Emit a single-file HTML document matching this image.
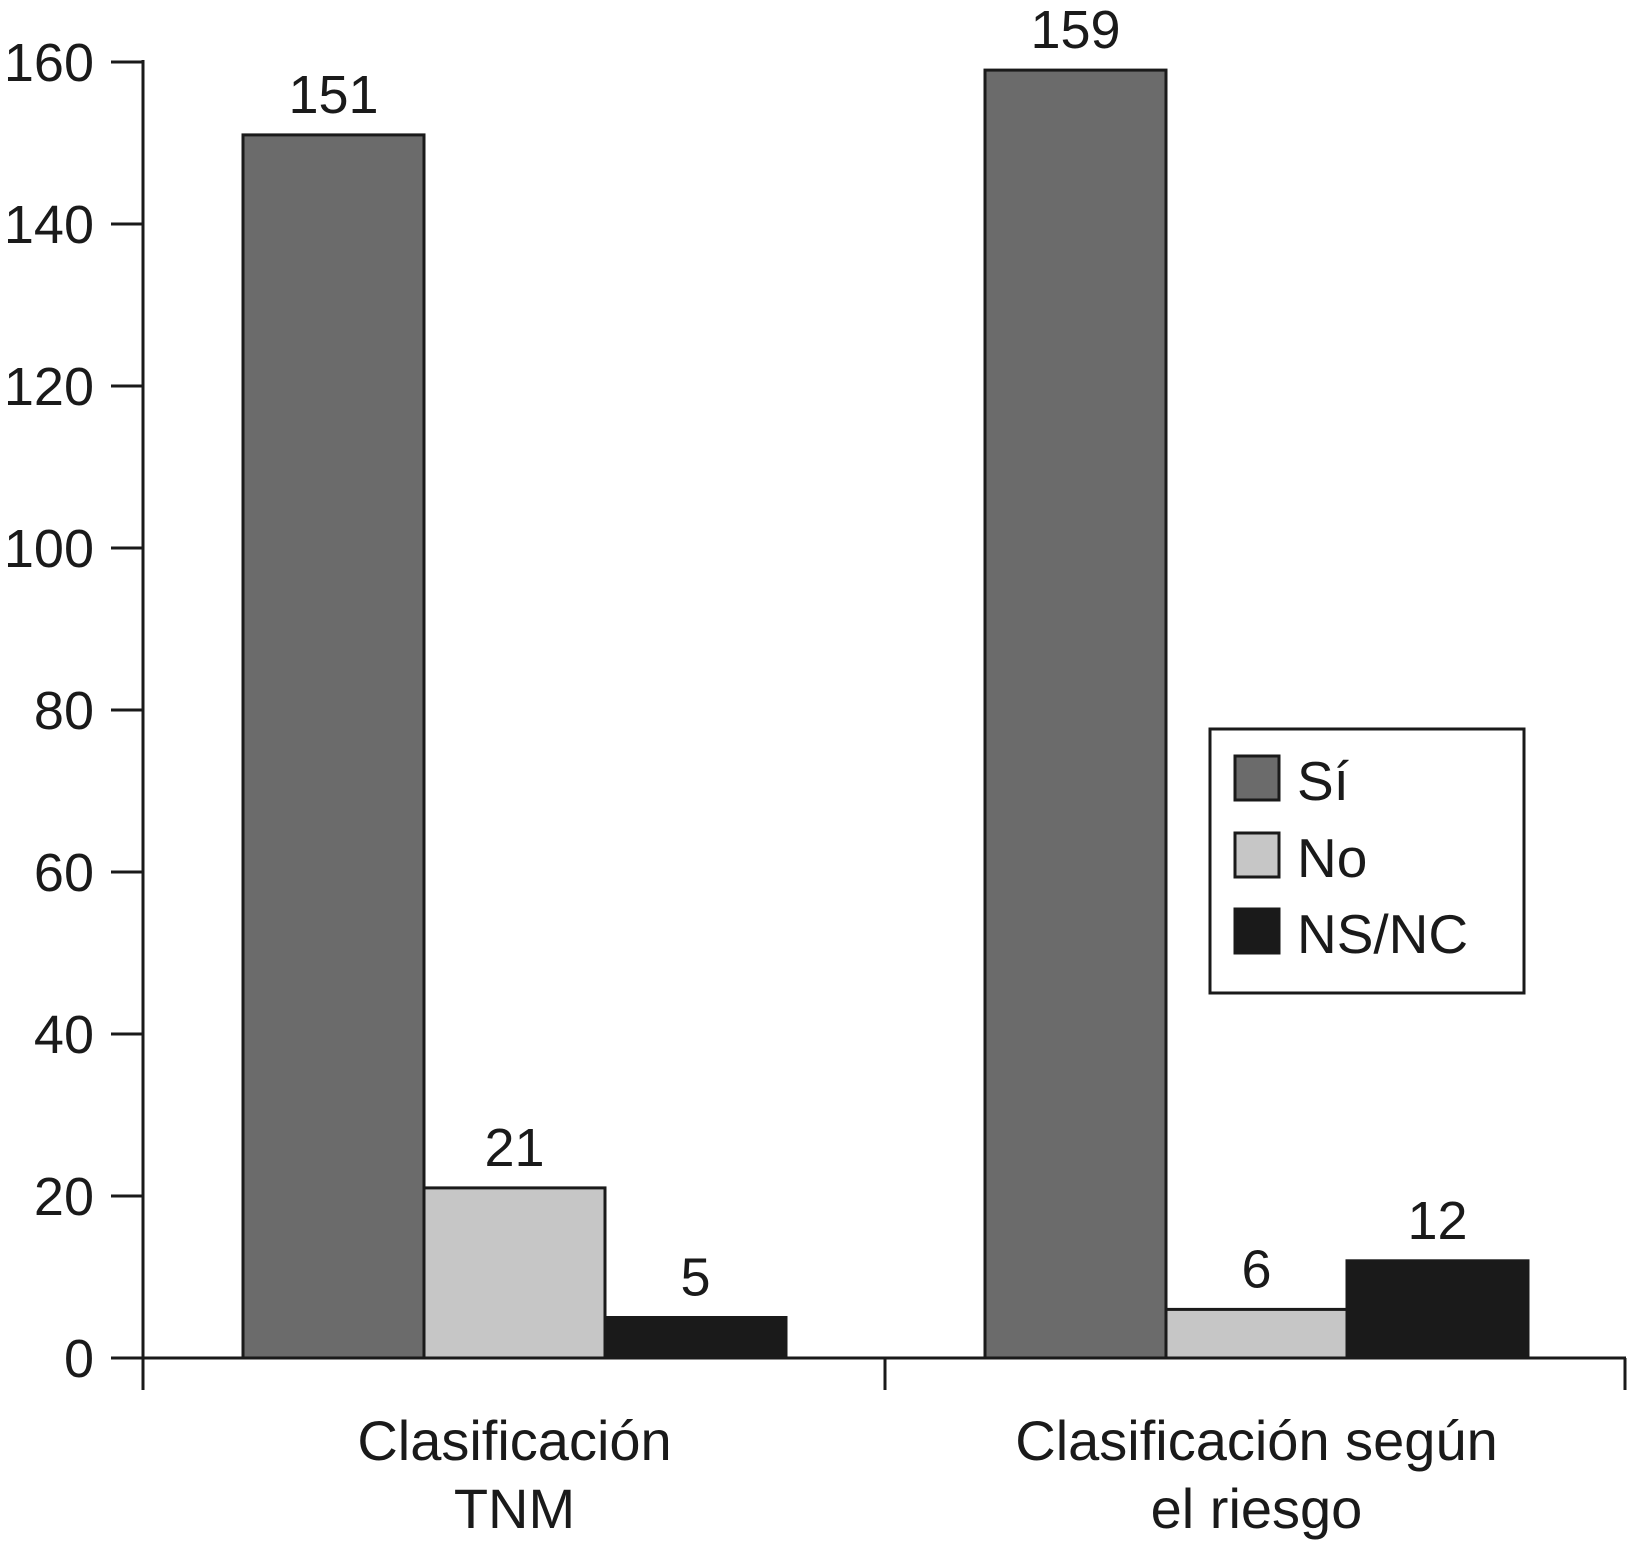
<!DOCTYPE html>
<html><head><meta charset="utf-8"><style>
html,body{margin:0;padding:0;background:#fff}
svg{display:block;font-family:"Liberation Sans",sans-serif}
</style></head><body>
<svg id="chart" width="1629" height="1545" viewBox="0 0 1629 1545">
<g id="axes"></g><g id="bars"></g><g id="labels"></g>
<g>
<rect x="1210" y="729" width="314" height="264" fill="#fff" stroke="#1a1a1a" stroke-width="3"/>
<rect x="1235" y="756" width="44" height="44" fill="#6b6b6b" stroke="#1a1a1a" stroke-width="3"/>
<text x="1297" y="800" font-size="55" fill="#1a1a1a">Sí</text>
<rect x="1235" y="833" width="44" height="44" fill="#c6c6c6" stroke="#1a1a1a" stroke-width="3"/>
<text x="1297" y="877" font-size="55" fill="#1a1a1a">No</text>
<rect x="1235" y="909" width="44" height="44" fill="#1a1a1a" stroke="#1a1a1a" stroke-width="3"/>
<text x="1297" y="953" font-size="55" fill="#1a1a1a">NS/NC</text>
</g>
</svg>
<script>
const categories = [["Clasificación","TNM"],["Clasificación según","el riesgo"]];
const seriesNames = ["Sí","No","NS/NC"];
const siValues = [151,159];
const noValues = [21,6];
const nsncValues = [5,12];
const yTicks = [0,20,40,60,80,100,120,140,160];

const NS="http://www.w3.org/2000/svg";
const colors=["#6b6b6b","#c6c6c6","#1a1a1a"];
const x0=143,y0=1358,yTop=62,xEnd=1626;
const y=v=>y0-(v/160)*(y0-yTop);
const groupStart=[243,985],barW=181;
function mk(tag,attrs,parent){const e=document.createElementNS(NS,tag);for(const k in attrs)e.setAttribute(k,attrs[k]);parent.appendChild(e);return e;}
const axes=document.getElementById('axes'),bars=document.getElementById('bars'),labels=document.getElementById('labels');
let a=mk('line',{x1:x0,y1:yTop-2,x2:x0,y2:1390,stroke:'#1a1a1a','stroke-width':3},axes);


a=mk('line',{x1:111,y1:y0,x2:xEnd,y2:y0,stroke:'#1a1a1a','stroke-width':3},axes);


[885,xEnd-1].forEach(px=>{const t=mk('line',{x1:px,y1:y0,x2:px,y2:1390,stroke:'#1a1a1a','stroke-width':3},axes);

});
yTicks.forEach(v=>{const t=mk('line',{x1:111,y1:y(v),x2:x0,y2:y(v),stroke:'#1a1a1a','stroke-width':3},axes);


const l=mk('text',{x:94,y:y(v)+19,'font-size':54,'text-anchor':'end',fill:'#1a1a1a'},axes);


l.textContent=v;});
const series=[siValues,noValues,nsncValues];
categories.forEach((c,i)=>{
 series.forEach((vals,s)=>{
  const bx=groupStart[i]+s*barW,v=vals[i];
  const r=mk('rect',{x:bx,y:y(v),width:barW,height:y0-y(v),fill:colors[s],stroke:'#1a1a1a','stroke-width':3},bars);
  
  
  const t=mk('text',{x:bx+barW/2,y:y(v)-22,'font-size':54,'text-anchor':'middle',fill:'#1a1a1a'},labels);
  
  
  t.textContent=v;
 });
 const cx=groupStart[i]+1.5*barW;
 c.forEach((line,j)=>{const t=mk('text',{x:cx,y:1460+j*68,'font-size':56,'text-anchor':'middle',fill:'#1a1a1a'},labels);
 
 
 t.textContent=line;});
});
</script>
</body></html>
